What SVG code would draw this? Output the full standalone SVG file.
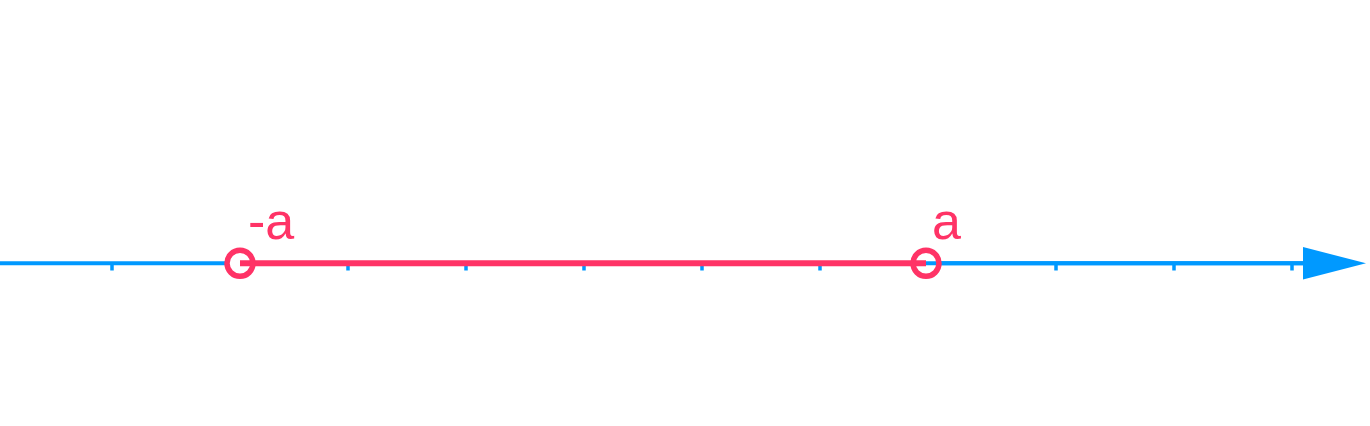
<svg xmlns="http://www.w3.org/2000/svg" width="1370" height="426" viewBox="0 0 1370 426">
<style>
.axis{stroke:#0099ff;stroke-width:4;fill:none}
.tick{stroke:#0099ff;stroke-width:3.5}
.seg{stroke:#ff3366;stroke-width:6;fill:none}
.ring{stroke:#ff3366;stroke-width:5.5;fill:none}
.lbl{font-family:"Liberation Sans",Arial,sans-serif;font-size:52px;fill:#ff3366}
</style>
<rect width="1370" height="426" fill="#ffffff"/>
<g id="axis">
<line class="axis" x1="0" y1="263.3" x2="1305" y2="263.3"/>
<g class="tick">
<line x1="112" y1="263" x2="112" y2="270.5"/>
<line x1="348" y1="263" x2="348" y2="270.5"/>
<line x1="466" y1="263" x2="466" y2="270.5"/>
<line x1="584" y1="263" x2="584" y2="270.5"/>
<line x1="702" y1="263" x2="702" y2="270.5"/>
<line x1="820" y1="263" x2="820" y2="270.5"/>
<line x1="1056" y1="263" x2="1056" y2="270.5"/>
<line x1="1174" y1="263" x2="1174" y2="270.5"/>
<line x1="1292" y1="263" x2="1292" y2="270.5"/>
</g>
<polygon points="1303,247 1366,263.3 1303,279.5" fill="#0099ff"/>
</g>
<g id="connectors">
<circle cx="240" cy="263.3" r="13" fill="#ffffff"/>
<circle cx="926" cy="263.3" r="13" fill="#ffffff"/>
<line class="axis" x1="926" y1="263.3" x2="1305" y2="263.3"/>
<line class="seg" x1="240" y1="263.3" x2="926" y2="263.3"/>
</g>
<g id="node-neg-a">
<circle class="ring" cx="240" cy="263.3" r="13"/>
<text class="lbl" x="248" y="238.5">-a</text>
</g>
<g id="node-a">
<circle class="ring" cx="926" cy="263.3" r="13"/>
<text class="lbl" x="932" y="238.5">a</text>
</g>
</svg>
